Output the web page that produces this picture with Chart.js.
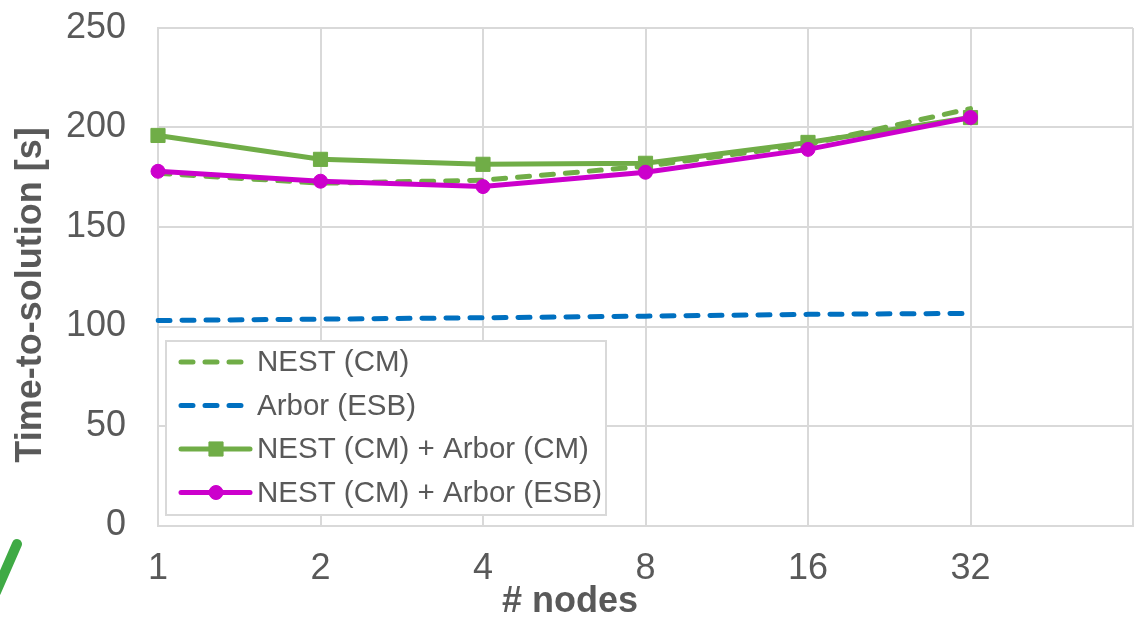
<!DOCTYPE html>
<html>
<head>
<meta charset="utf-8">
<title>Time-to-solution vs nodes</title>
<script src="https://cdn.jsdelivr.net/npm/chart.js@4"></script>
<style>
  html, body { margin: 0; padding: 0; background: #ffffff; overflow: hidden; }
  #wrap { width: 1135px; height: 620px; }
  #chart { display: block; }
</style>
</head>
<body>
<div id="wrap"><canvas id="chart" width="1135" height="620"></canvas></div>
<script>
// Node counts on the x axis (an empty trailing slot keeps the extra grid column)
const nodeLabels = ['1', '2', '4', '8', '16', '32', ''];

// Time-to-solution in seconds per configuration
const nestCM = [177, 172, 173.5, 180.5, 191.5, 209.5];
const arborESB = [103, 103.7, 104.4, 105.2, 106.1, 106.6];
const nestArborCM = [196, 184, 181.5, 182, 192.5, 205];
const nestArborESB = [178, 173, 170.3, 177.5, 189, 205];

// Y axis range
const yMin = 0;
const yMax = 250;
const yStep = 50;

const seriesNames = ['NEST (CM)', 'Arbor (ESB)', 'NEST (CM) + Arbor (CM)', 'NEST (CM) + Arbor (ESB)'];
const xTitle = '# nodes';
const yTitle = 'Time-to-solution [s]';

const GREEN = '#70AD47';
const BLUE = '#0070C0';
const MAGENTA = '#CC00CC';
const TEXT = '#595959';
const GRID = '#d9d9d9';
const FONT = "'Liberation Sans', Arial, sans-serif";

// Legend box drawn inside the plot, plus axis titles and the small tick mark at the corner
const decorations = {
  id: 'decorations',
  afterDraw(chart) {
    const ctx = chart.ctx;
    const ds = chart.data.datasets;

    // legend
    const bx = 166, by = 341, bw = 440, bh = 174;
    ctx.save();
    ctx.fillStyle = '#ffffff';
    ctx.fillRect(bx, by, bw, bh);
    ctx.strokeStyle = GRID;
    ctx.lineWidth = 2;
    ctx.strokeRect(bx, by, bw, bh);
    ds.forEach((d, i) => {
      const cy = 362 + i * 43.5;
      const dashed = d.borderDash && d.borderDash.length;
      const x0 = 181, x1 = dashed ? 243 : 250;
      ctx.save();
      ctx.strokeStyle = d.borderColor;
      ctx.lineWidth = d.borderWidth;
      ctx.lineCap = 'round';
      ctx.setLineDash(dashed ? d.borderDash : []);
      ctx.beginPath();
      ctx.moveTo(x0, cy);
      ctx.lineTo(x1, cy);
      ctx.stroke();
      ctx.restore();
      if (d.pointRadius > 0) {
        ctx.save();
        ctx.fillStyle = d.pointBackgroundColor;
        ctx.strokeStyle = d.pointBorderColor;
        ctx.lineWidth = 1;
        ctx.beginPath();
        if (d.pointStyle === 'rect') {
          const s = Math.SQRT1_2 * d.pointRadius;
          ctx.rect(216 - s, cy - s, 2 * s, 2 * s);
        } else {
          ctx.arc(216, cy, d.pointRadius, 0, Math.PI * 2);
        }
        ctx.fill();
        ctx.stroke();
        ctx.restore();
      }
      ctx.fillStyle = TEXT;
      ctx.font = '29.5px ' + FONT;
      ctx.textBaseline = 'middle';
      ctx.textAlign = 'left';
      ctx.fillText(d.label, 257, cy + 1);
    });

    // axis titles
    ctx.fillStyle = TEXT;
    ctx.font = 'bold 36px ' + FONT;
    ctx.textAlign = 'center';
    ctx.textBaseline = 'middle';
    ctx.fillText(xTitle, 570, 602);
    ctx.save();
    ctx.translate(31, 295);
    ctx.rotate(-Math.PI / 2);
    ctx.fillText(yTitle, 0, 0);
    ctx.restore();

    // green stroke in the lower-left corner
    ctx.strokeStyle = '#3faa45';
    ctx.lineWidth = 10;
    ctx.lineCap = 'round';
    ctx.beginPath();
    ctx.moveTo(17, 544);
    ctx.lineTo(-4, 592);
    ctx.stroke();
    ctx.restore();
  }
};

new Chart(document.getElementById('chart'), {
  type: 'line',
  data: {
    labels: nodeLabels,
    datasets: [
      {
        label: seriesNames[0],
        data: nestCM,
        borderColor: GREEN,
        backgroundColor: GREEN,
        borderWidth: 5,
        borderDash: [12, 12],
        borderCapStyle: 'round',
        pointRadius: 0,
        order: 1
      },
      {
        label: seriesNames[1],
        data: arborESB,
        borderColor: BLUE,
        backgroundColor: BLUE,
        borderWidth: 5,
        borderDash: [12, 12],
        borderCapStyle: 'round',
        pointRadius: 0,
        order: 3
      },
      {
        label: seriesNames[2],
        data: nestArborCM,
        borderColor: GREEN,
        backgroundColor: GREEN,
        borderWidth: 5,
        pointStyle: 'rect',
        pointRadius: 10,
        pointBackgroundColor: GREEN,
        pointBorderColor: GREEN,
        pointBorderWidth: 1,
        order: 2
      },
      {
        label: seriesNames[3],
        data: nestArborESB,
        borderColor: MAGENTA,
        backgroundColor: MAGENTA,
        borderWidth: 5,
        pointStyle: 'circle',
        pointRadius: 7,
        pointBackgroundColor: MAGENTA,
        pointBorderColor: MAGENTA,
        pointBorderWidth: 1,
        order: 0
      }
    ]
  },
  options: {
    responsive: false,
    animation: false,
    events: [],
    layout: {
      autoPadding: false,
      padding: { top: 28, right: 2, bottom: 0, left: 0 }
    },
    plugins: {
      legend: { display: false },
      tooltip: { enabled: false },
      title: { display: false }
    },
    elements: { line: { tension: 0 } },
    scales: {
      x: {
        type: 'category',
        offset: false,
        grid: {
          color: GRID,
          lineWidth: 2,
          drawTicks: true,
          tickLength: 22,
          tickColor: 'rgba(0,0,0,0)'
        },
        border: { color: GRID, width: 2 },
        ticks: {
          color: TEXT,
          font: { family: FONT, size: 36 },
          padding: 0,
          autoSkip: false,
          maxRotation: 0
        },
        afterFit(scale) {
          scale.height = 94.5;
          scale.paddingLeft = 0;
          scale.paddingRight = 0;
        }
      },
      y: {
        min: yMin,
        max: yMax,
        grid: { color: GRID, lineWidth: 2, drawTicks: false },
        border: { color: GRID, width: 2 },
        ticks: {
          stepSize: yStep,
          color: TEXT,
          font: { family: FONT, size: 36 },
          padding: 32
        },
        afterFit(scale) {
          scale.width = 158;
          scale.paddingTop = 0;
          scale.paddingBottom = 0;
        }
      }
    }
  },
  plugins: [decorations]
});
</script>
</body>
</html>
